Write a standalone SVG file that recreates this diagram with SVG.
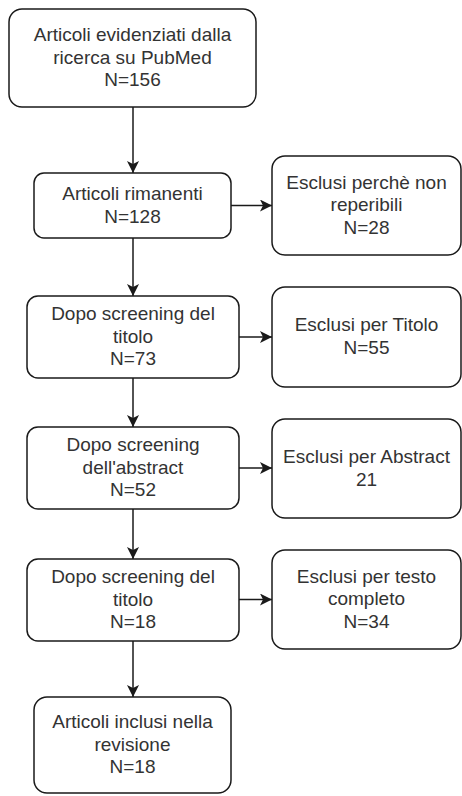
<svg xmlns="http://www.w3.org/2000/svg" width="462" height="796" viewBox="0 0 462 796">
<style>
.box{fill:#fff;stroke:#1a1a1a;stroke-width:1.5}
.t{font-family:"Liberation Sans",Arial,sans-serif;font-size:19px;fill:#333;text-anchor:middle}
.c{stroke:#1a1a1a;stroke-width:1.5;fill:none}
</style>
<defs>
<marker id="ah" markerUnits="userSpaceOnUse" markerWidth="13" markerHeight="13" refX="12" refY="6" orient="auto">
<path d="M0,0 L12,6 L0,12 L3,6 Z" fill="#1a1a1a"/>
</marker>
</defs>
<rect width="462" height="796" fill="#fff"/>
<g id="connectors">
<line class="c" x1="133" y1="107" x2="133" y2="173" marker-end="url(#ah)"/>
<line class="c" x1="133" y1="238" x2="133" y2="296" marker-end="url(#ah)"/>
<line class="c" x1="133" y1="378" x2="133" y2="427" marker-end="url(#ah)"/>
<line class="c" x1="133" y1="509" x2="133" y2="559" marker-end="url(#ah)"/>
<line class="c" x1="133" y1="641" x2="133" y2="697" marker-end="url(#ah)"/>
<line class="c" x1="231" y1="205.5" x2="272" y2="205.5" marker-end="url(#ah)"/>
<line class="c" x1="239" y1="337" x2="272" y2="337" marker-end="url(#ah)"/>
<line class="c" x1="239" y1="468" x2="272" y2="468" marker-end="url(#ah)"/>
<line class="c" x1="239" y1="599.5" x2="272" y2="599.5" marker-end="url(#ah)"/>
</g>
<g id="n1">
<rect class="box" x="9" y="9" width="247" height="98" rx="13"/>
<text class="t" x="132.5" y="41">Articoli evidenziati dalla</text>
<text class="t" x="132.5" y="63.7">ricerca su PubMed</text>
<text class="t" x="132.5" y="86.4">N=156</text>
</g>
<g id="n2">
<rect class="box" x="34" y="173" width="197" height="65" rx="10"/>
<text class="t" x="132.5" y="200">Articoli rimanenti</text>
<text class="t" x="132.5" y="222.7">N=128</text>
</g>
<g id="n3">
<rect class="box" x="27" y="296" width="212" height="82" rx="11"/>
<text class="t" x="133" y="320">Dopo screening del</text>
<text class="t" x="133" y="342.7">titolo</text>
<text class="t" x="133" y="365.4">N=73</text>
</g>
<g id="n4">
<rect class="box" x="27" y="427" width="212" height="82" rx="11"/>
<text class="t" x="133" y="451">Dopo screening</text>
<text class="t" x="133" y="473.7">dell'abstract</text>
<text class="t" x="133" y="496.4">N=52</text>
</g>
<g id="n5">
<rect class="box" x="27" y="559" width="212" height="82" rx="11"/>
<text class="t" x="133" y="583">Dopo screening del</text>
<text class="t" x="133" y="605.7">titolo</text>
<text class="t" x="133" y="628.4">N=18</text>
</g>
<g id="n6">
<rect class="box" x="34" y="697" width="197" height="96" rx="13"/>
<text class="t" x="132.5" y="728">Articoli inclusi nella</text>
<text class="t" x="132.5" y="750.7">revisione</text>
<text class="t" x="132.5" y="773.4">N=18</text>
</g>
<g id="r1">
<rect class="box" x="272" y="156" width="189" height="99" rx="13"/>
<text class="t" x="366.5" y="188.5">Esclusi perchè non</text>
<text class="t" x="366.5" y="211.2">reperibili</text>
<text class="t" x="366.5" y="233.9">N=28</text>
</g>
<g id="r2">
<rect class="box" x="272" y="287" width="189" height="100" rx="13"/>
<text class="t" x="366.5" y="331.4">Esclusi per Titolo</text>
<text class="t" x="366.5" y="354.1">N=55</text>
</g>
<g id="r3">
<rect class="box" x="272" y="419" width="189" height="99" rx="13"/>
<text class="t" x="366.5" y="462.8">Esclusi per Abstract</text>
<text class="t" x="366.5" y="485.5">21</text>
</g>
<g id="r4">
<rect class="box" x="272" y="550" width="189" height="99" rx="13"/>
<text class="t" x="366.5" y="582.5">Esclusi per testo</text>
<text class="t" x="366.5" y="605.2">completo</text>
<text class="t" x="366.5" y="627.9">N=34</text>
</g>
</svg>
